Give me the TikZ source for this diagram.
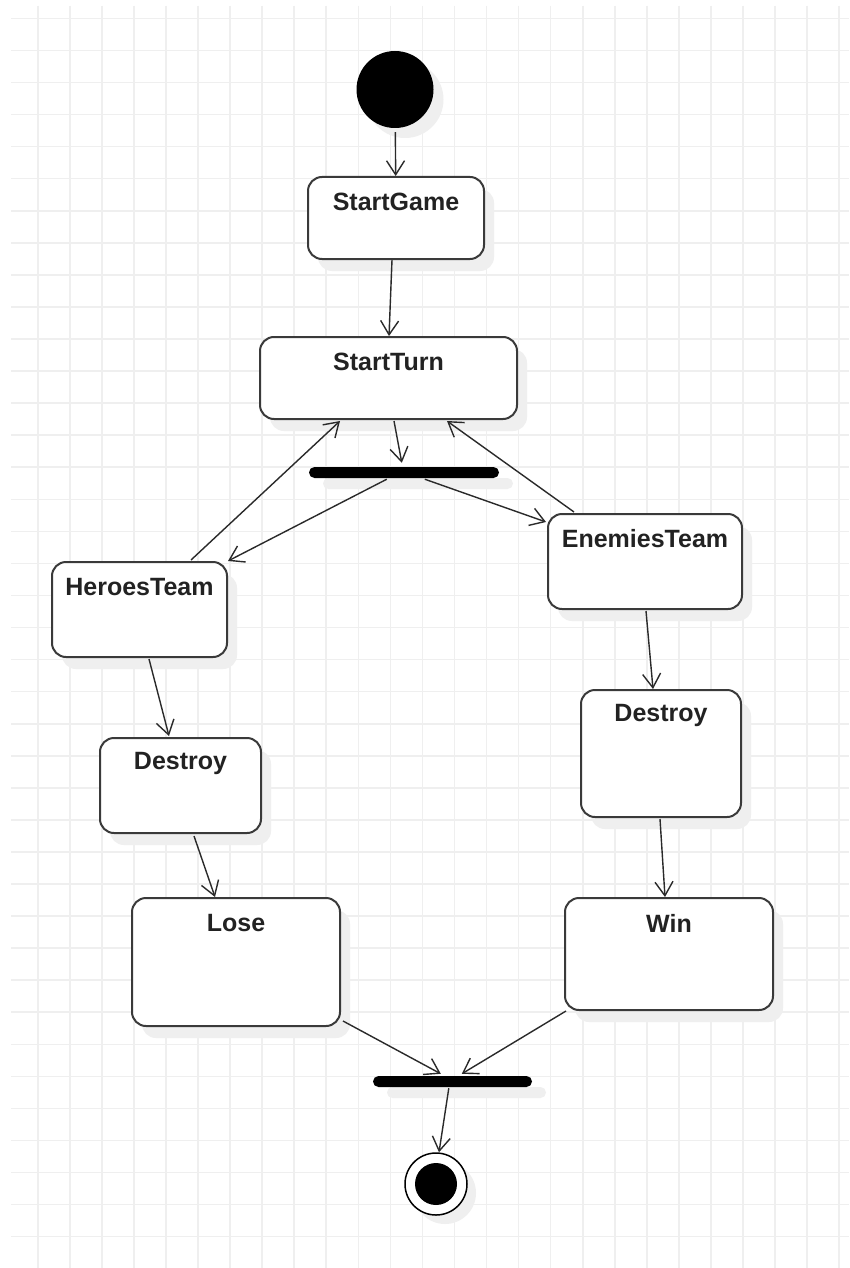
\documentclass[tikz,border=0pt]{standalone}
\usepackage{fontspec}
\setmainfont{Liberation Sans}
\usetikzlibrary{arrows.meta,shadows,calc}
\definecolor{gridc}{HTML}{EFEFEF}
\definecolor{shadc}{HTML}{EFEFEF}
\definecolor{edgec}{HTML}{3A3A3A}
\definecolor{linec}{HTML}{2A2A2A}
\definecolor{txtc}{HTML}{222222}
\begin{document}
\begin{tikzpicture}[x=1pt,y=-1pt,
  statebox/.style={draw=edgec, line width=2pt, fill=white, rounded corners=14pt, inner sep=0pt,
    drop shadow={shadow xshift=10pt, shadow yshift=-12pt, fill=shadc, opacity=1}},
  tlabel/.style={anchor=center, yshift=-26pt, text=txtc, font=\fontsize{25}{30}\selectfont\bfseries, inner sep=0pt},
  barnode/.style={fill=black, rounded corners=5.5pt, inner sep=0pt, minimum height=11pt,
    drop shadow={shadow xshift=14pt, shadow yshift=-11pt, fill=shadc, opacity=1}},
  arr/.style={draw=linec, line width=1.4pt, -{Straight Barb[length=14pt,width=18pt,line width=1.4pt]}},
]
\useasboundingbox (0,0) rectangle (849,1268);
\fill[white] (0,0) rectangle (849,1268);
% grid
\foreach \k in {0,...,25} {
  \draw[gridc, line width=1.6pt] ({37.7+32.06*\k},6) -- ({37.7+32.06*\k},1268);
}
\foreach \k in {0,...,38} {
  \draw[gridc, line width=1.6pt] (11,{18.4+32.06*\k}) -- (849,{18.4+32.06*\k});
}

% initial node
\node[circle, fill=black, minimum size=77pt, inner sep=0pt,
  drop shadow={shadow xshift=10pt, shadow yshift=-10pt, fill=shadc, opacity=1}] (init) at (395,89.5) {};

% states
\node[statebox, minimum width=176pt, minimum height=82pt, label={[tlabel]north:StartGame}] (sg) at (396,218) {};
\node[statebox, minimum width=257pt, minimum height=82pt, label={[tlabel]north:StartTurn}] (st) at (388.5,378) {};
\node[barnode, minimum width=190pt] (bar1) at (404,472.5) {};
\node[statebox, minimum width=175pt, minimum height=95pt, label={[tlabel]north:HeroesTeam}] (hero) at (139.5,609.5) {};
\node[statebox, minimum width=194pt, minimum height=95pt, label={[tlabel]north:EnemiesTeam}] (enem) at (645,561.5) {};
\node[statebox, minimum width=161pt, minimum height=95pt, label={[tlabel]north:Destroy}] (dl) at (180.5,785.5) {};
\node[statebox, minimum width=208pt, minimum height=128pt, label={[tlabel]north:Lose}] (lose) at (236,962) {};
\node[statebox, minimum width=160pt, minimum height=127pt, label={[tlabel]north:Destroy}] (dr) at (661,753.5) {};
\node[statebox, minimum width=208pt, minimum height=112pt, label={[tlabel]north:Win}] (win) at (669,954) {};
\node[barnode, minimum width=159pt] (bar2) at (452.5,1081.5) {};

% final node
\node[circle, draw=black, line width=1.5pt, fill=white, minimum size=62pt, inner sep=0pt,
  drop shadow={shadow xshift=9pt, shadow yshift=-9pt, fill=shadc, opacity=1},
  path picture={\fill[black] (path picture bounding box.center) circle (21pt);}] (fin) at (436,1184) {};

% connectors
\draw[arr, shorten <=4pt] (init) -- (sg);
\draw[arr] ($(sg.south west)+(85,0)$) -- ($(st.north west)+(130,0)$);
\draw[arr] ($(st.south west)+(135,1)$) -- ($(bar1.north west)+(93,-4)$);
\draw[arr] ($(bar1.south west)+(78,1)$) -- (hero.north east);
\draw[arr] ($(bar1.south west)+(116,1)$) -- ($(enem.north west)+(-1,9)$);
\draw[arr] ($(hero.north west)+(140,-1)$) -- ($(st.south west)+(81,1)$);
\draw[arr] ($(enem.north west)+(27,-1)$) -- ($(st.south west)+(188,1)$);
\draw[arr] ($(hero.south west)+(98,1)$) -- ($(dl.north west)+(70,-1)$);
\draw[arr] ($(dl.south west)+(95,2)$) -- ($(lose.north west)+(84,0)$);
\draw[arr] ($(enem.south west)+(99,1)$) -- ($(dr.north west)+(73,0)$);
\draw[arr] ($(dr.south west)+(80,1)$) -- ($(win.north west)+(101,0)$);
\draw[arr] ($(lose.south east)+(2,-6)$) -- ($(bar2.north west)+(68,-2)$);
\draw[arr] ($(win.south west)+(2,0)$) -- ($(bar2.north west)+(89,-2)$);
\draw[arr] ($(bar2.south west)+(76,1)$) -- ($(fin.north)+(3,0)$);
\end{tikzpicture}
\end{document}
